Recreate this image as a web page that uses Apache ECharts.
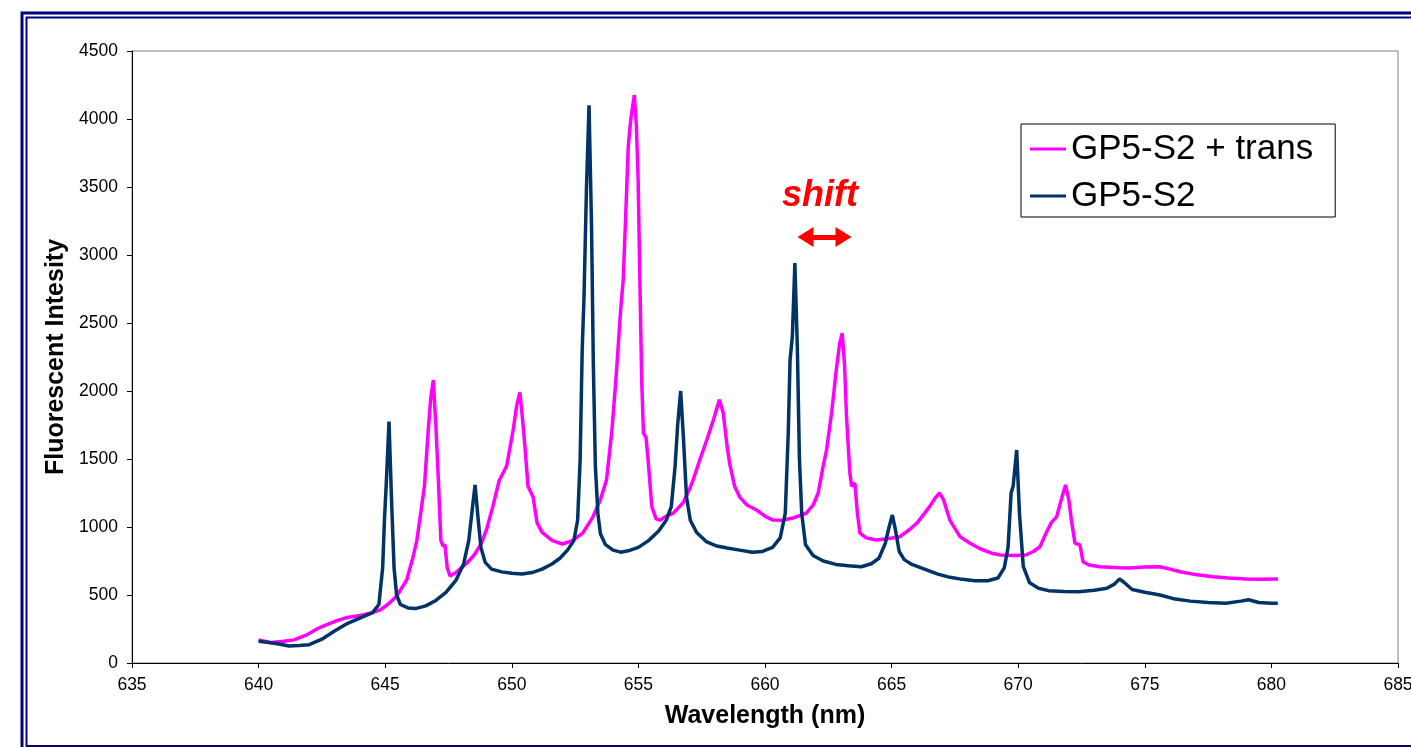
<!DOCTYPE html>
<html lang="en">
<head>
    <meta charset="UTF-8">
    <title>Fluorescent Intensity</title>
    <script src="https://cdn.jsdelivr.net/npm/echarts@6/dist/echarts.min.js"></script>
    <style>
        html, body { margin: 0; padding: 0; background: #fff; }
    </style>
</head>
<body>
<div id="main" style="width: 1411px;height:747px;"></div>
<script type="text/javascript">
    // series names
    var seriesNames = ['GP5-S2 + trans', 'GP5-S2'];

    // GP5-S2 + trans (magenta)
    var transX = [640.0, 640.5, 641.0, 641.4, 641.9, 642.3, 642.6, 643.0, 643.5, 644.0, 644.5, 644.8, 645.1, 645.45, 645.85,
        646.1, 646.25, 646.4, 646.55, 646.7, 646.8, 646.9, 647.0, 647.1, 647.2, 647.28, 647.36, 647.45, 647.56, 647.75,
        647.95, 648.2, 648.5, 648.8, 649.0, 649.25, 649.5, 649.8, 650.05, 650.2, 650.32, 650.42, 650.52, 650.64, 650.84,
        651.0, 651.2, 651.6, 652.0, 652.4, 652.8, 653.2, 653.5, 653.74, 653.95, 654.13, 654.3, 654.4, 654.5, 654.6,
        654.7, 654.84, 654.92, 654.99, 655.06, 655.13, 655.2, 655.3, 655.38, 655.53, 655.7, 655.85, 656.1, 656.37, 656.76,
        657.0, 657.16, 657.4, 657.7, 657.95, 658.2, 658.35, 658.5, 658.6, 658.8, 659.0, 659.3, 659.67, 660.0, 660.3,
        660.7, 661.1, 661.64, 661.9, 662.1, 662.3, 662.43, 662.63, 662.83, 662.95, 663.05, 663.14, 663.22, 663.35, 663.42,
        663.55, 663.65, 663.75, 664.0, 664.4, 664.9, 665.33, 665.7, 666.0, 666.3, 666.5, 666.75, 666.9, 667.05, 667.3,
        667.7, 668.1, 668.5, 669.0, 669.3, 669.8, 670.3, 670.6, 670.86, 671.1, 671.3, 671.52, 671.7, 671.87, 672.0,
        672.1, 672.24, 672.44, 672.56, 672.8, 673.23, 674.0, 674.4, 675.0, 675.6, 676.0, 676.4, 677.0, 677.7, 678.3,
        679.0, 679.6, 680.26];
    var transY = [170, 150, 160, 170, 206, 250, 275, 305, 335, 350, 370, 390, 430, 490, 610,
        780, 900, 1100, 1300, 1710, 1950, 2080, 1750, 1345, 900, 860, 870, 700, 640, 660,
        690, 730, 790, 880, 980, 1150, 1340, 1450, 1710, 1900, 1990, 1800, 1590, 1300, 1220,
        1030, 960, 900, 875, 900, 955, 1073, 1200, 1345, 1700, 2130, 2600, 2816, 3300, 3800,
        4000, 4176, 3950, 3550, 2800, 2080, 1690, 1660, 1500, 1150, 1060, 1050, 1080, 1100, 1176,
        1270, 1345, 1480, 1640, 1780, 1935, 1838, 1600, 1470, 1300, 1220, 1160, 1125, 1080, 1051,
        1050, 1066, 1103, 1160, 1250, 1450, 1566, 1838, 2179, 2350, 2426, 2200, 1811, 1400, 1300,
        1323, 1100, 955, 920, 904, 915, 929, 980, 1029, 1100, 1150, 1220, 1250, 1200, 1051,
        929, 880, 840, 805, 794, 790, 794, 820, 855, 955, 1030, 1076, 1200, 1309, 1200,
        1051, 882, 868, 745, 720, 708, 700, 698, 705, 708, 690, 671, 650, 635, 625,
        618, 615, 618];

    // GP5-S2 (navy)
    var baseX = [640.0, 640.4, 640.8, 641.2, 641.6, 642.0, 642.5, 643.0, 643.5, 644.0, 644.5, 644.75, 644.9, 644.97, 645.05,
        645.15, 645.25, 645.35, 645.45, 645.6, 645.9, 646.2, 646.6, 647.0, 647.4, 647.8, 648.1, 648.3, 648.45, 648.55,
        648.65, 648.78, 648.95, 649.2, 649.6, 650.0, 650.4, 650.8, 651.2, 651.6, 651.9, 652.2, 652.45, 652.6, 652.7,
        652.78, 652.85, 652.95, 653.05, 653.15, 653.22, 653.3, 653.4, 653.5, 653.7, 654.0, 654.3, 654.6, 655.0, 655.4,
        655.8, 656.1, 656.3, 656.45, 656.55, 656.67, 656.78, 656.9, 657.05, 657.3, 657.7, 658.1, 658.5, 659.0, 659.5,
        659.9, 660.3, 660.6, 660.8, 660.92, 660.99, 661.08, 661.18, 661.28, 661.36, 661.45, 661.6, 661.9, 662.3, 662.8,
        663.3, 663.8, 664.2, 664.5, 664.75, 664.9, 665.03, 665.15, 665.3, 665.5, 665.8, 666.3, 666.8, 667.3, 667.8,
        668.3, 668.8, 669.2, 669.45, 669.6, 669.72, 669.8, 669.94, 670.05, 670.2, 670.45, 670.8, 671.2, 671.8, 672.4,
        673.0, 673.5, 673.8, 674.0, 674.2, 674.5, 675.0, 675.6, 676.2, 676.8, 677.5, 678.2, 678.8, 679.1, 679.5,
        680.0, 680.25];
    var baseY = [160, 150, 140, 125, 128, 135, 175, 235, 290, 330, 370, 430, 700, 1050, 1350,
        1775, 1200, 700, 500, 430, 405, 400, 420, 460, 520, 610, 730, 900, 1150, 1310,
        1100, 850, 740, 690, 670, 660, 655, 665, 690, 730, 770, 830, 900, 1050, 1500,
        2300, 2680, 3500, 4100, 3200, 2200, 1450, 1100, 950, 870, 830, 815, 825, 850, 900,
        970, 1050, 1150, 1450, 1750, 2000, 1650, 1220, 1050, 960, 890, 860, 845, 830, 815,
        820, 850, 920, 1100, 1700, 2230, 2400, 2940, 2300, 1500, 1100, 870, 790, 750, 725,
        715, 708, 730, 770, 880, 1000, 1088, 980, 820, 760, 725, 690, 655, 630, 615,
        605, 605, 625, 700, 850, 1250, 1300, 1566, 1100, 710, 590, 550, 532, 525, 524,
        535, 550, 580, 618, 590, 540, 520, 500, 470, 455, 445, 440, 455, 465, 445,
        440, 440];

    function pairs(xs, ys) {
        var out = [];
        for (var i = 0; i < xs.length; i++) out.push([xs[i], ys[i]]);
        return out;
    }

    var font = 'Liberation Sans, Arial, sans-serif';
    var myChart = echarts.init(document.getElementById('main'));

    var option = {
        animation: false,
        backgroundColor: '#fff',
        grid: {
            left: 132, right: 13, top: 51, bottom: 84,
            outerBoundsMode: 'none',
            show: true, borderColor: '#808080', borderWidth: 1
        },
        legend: {
            left: 1021, top: 124,
            orient: 'vertical',
            data: seriesNames,
            icon: 'rect',
            itemWidth: 36, itemHeight: 3, itemGap: 7,
            padding: [5, 22, 1, 9],
            borderColor: '#000', borderWidth: 1,
            backgroundColor: '#fff',
            textStyle: {fontFamily: font, fontSize: 35, color: '#000', lineHeight: 40}
        },
        xAxis: {
            type: 'value', min: 635, max: 685, interval: 5,
            name: 'Wavelength (nm)', nameLocation: 'middle', nameGap: 41,
            nameTextStyle: {fontFamily: font, fontSize: 25, fontWeight: 'bold', color: '#000'},
            axisLine: {lineStyle: {color: '#000', width: 1}},
            axisTick: {inside: false, length: 5, lineStyle: {color: '#000'}},
            axisLabel: {fontFamily: font, fontSize: 17.5, color: '#000', margin: 13},
            splitLine: {show: false}
        },
        yAxis: {
            type: 'value', min: 0, max: 4500, interval: 500,
            name: 'Fluorescent Intesity', nameLocation: 'middle', nameGap: 55,
            nameTextStyle: {fontFamily: font, fontSize: 25, fontWeight: 'bold', color: '#000'},
            axisLine: {show: true, lineStyle: {color: '#000', width: 1}},
            axisTick: {show: true, inside: false, length: 5, lineStyle: {color: '#000'}},
            axisLabel: {
                fontFamily: font, fontSize: 17.5, color: '#000', margin: 14,
                formatter: function (v) { return String(v); }
            },
            splitLine: {show: false}
        },
        graphic: [
            {type: 'rect', shape: {x: 22, y: 13, width: 1500, height: 800}, style: {fill: 'none', stroke: '#000080', lineWidth: 3}, silent: true},
            {type: 'rect', shape: {x: 26.5, y: 17.5, width: 1500, height: 728.5}, style: {fill: 'none', stroke: '#000080', lineWidth: 2}, silent: true},
            {type: 'text', left: 782, top: 178, style: {text: 'shift', fill: '#ff0000', font: 'italic bold 36px ' + font}, silent: true}
        ],
        series: [
            {
                name: seriesNames[0], type: 'line', data: pairs(transX, transY),
                showSymbol: false, symbol: 'none',
                lineStyle: {color: '#ff00ff', width: 3.5}, itemStyle: {color: '#ff00ff'},
                z: 2
            },
            {
                name: seriesNames[1], type: 'line', data: pairs(baseX, baseY),
                showSymbol: false, symbol: 'none',
                lineStyle: {color: '#003366', width: 3.5}, itemStyle: {color: '#003366'},
                z: 3,
                markLine: {
                    silent: true, symbol: ['triangle', 'triangle'], symbolSize: [20, 16],
                    label: {show: false},
                    lineStyle: {color: '#ff0000', width: 5, type: 'solid'},
                    data: [[{coord: [661.6, 3132]}, {coord: [663.1, 3132]}]]
                }
            }
        ]
    };

    myChart.setOption(option);
</script>
</body>
</html>
